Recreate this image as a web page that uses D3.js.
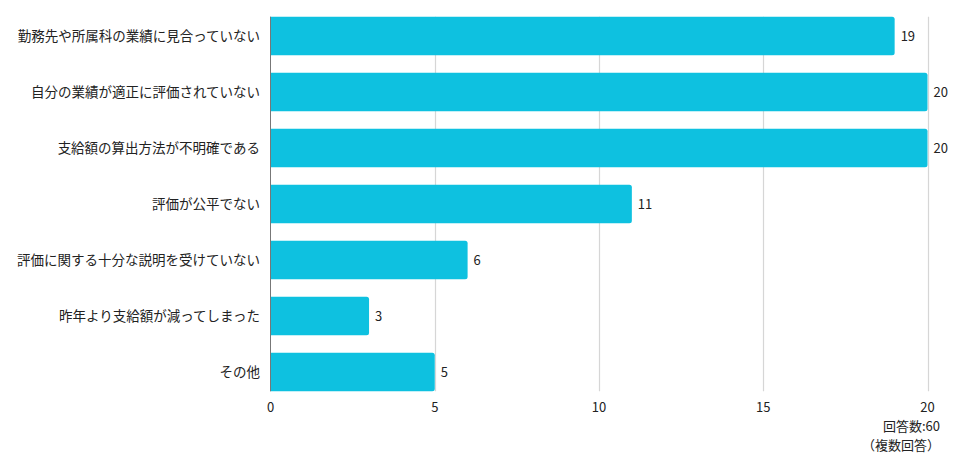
<!DOCTYPE html>
<html>
<head>
<meta charset="utf-8">
<script src="https://cdn.jsdelivr.net/npm/d3@7"></script>
<style>
  body { margin: 0; background: #fff; }
  text { font-family: "Noto Sans CJK JP", "Noto Sans", sans-serif; fill: #222; }
</style>
</head>
<body>
<svg id="container" width="976" height="459"></svg>
<script>
const categories = [
  '勤務先や所属科の業績に見合っていない',
  '自分の業績が適正に評価されていない',
  '支給額の算出方法が不明確である',
  '評価が公平でない',
  '評価に関する十分な説明を受けていない',
  '昨年より支給額が減ってしまった',
  'その他'
]
const values = [19, 20, 20, 11, 6, 3, 5]
const xTicks = [0, 5, 10, 15, 20]
const noteLines = ['回答数:60', '（複数回答）']

const svg = d3.select('#container')

const x = d3.scaleLinear().domain([0, 20]).range([270.5, 927.5])
const y = d3.scaleBand().domain(categories).range([8, 400]).paddingInner(0.31).paddingOuter(0.155)

const plotTop = y(categories[0])
const plotBottom = y(categories[categories.length - 1]) + y.bandwidth()

// grid lines
svg.append('g')
  .selectAll('line')
  .data(xTicks.slice(1))
  .enter()
  .append('line')
  .attr('x1', (d) => Math.round(x(d)) + 0.5)
  .attr('x2', (d) => Math.round(x(d)) + 0.5)
  .attr('y1', plotTop)
  .attr('y2', plotBottom)
  .attr('stroke', '#d6d6d6')
  .attr('stroke-width', 1.2)

// bars with rounded right end
const r = 2.5
svg.append('g')
  .selectAll('path')
  .data(values)
  .enter()
  .append('path')
  .attr('fill', '#0ec1e0')
  .attr('d', (d, i) => {
    const x0 = x(0), x1 = x(d), y0 = y(categories[i]), h = y.bandwidth()
    return `M${x0},${y0}H${x1 - r}Q${x1},${y0} ${x1},${y0 + r}V${y0 + h - r}Q${x1},${y0 + h} ${x1 - r},${y0 + h}H${x0}Z`
  })

// value labels
svg.append('g')
  .selectAll('text')
  .data(values)
  .enter()
  .append('text')
  .attr('x', (d) => x(d) + 6)
  .attr('y', (d, i) => y(categories[i]) + y.bandwidth() / 2)
  .attr('dy', '0.35em')
  .attr('font-size', 13)
  .text((d) => d)

// y axis line
svg.append('line')
  .attr('x1', 270.5).attr('x2', 270.5)
  .attr('y1', plotTop).attr('y2', plotBottom)
  .attr('stroke', '#777')
  .attr('stroke-width', 1)

// category labels
svg.append('g')
  .selectAll('text')
  .data(categories)
  .enter()
  .append('text')
  .attr('x', 260)
  .attr('y', (d) => y(d) + y.bandwidth() / 2)
  .attr('dy', '0.35em')
  .attr('text-anchor', 'end')
  .attr('font-size', 13.5)
  .text((d) => d)

// x tick labels
svg.append('g')
  .selectAll('text')
  .data(xTicks)
  .enter()
  .append('text')
  .attr('x', (d) => x(d))
  .attr('y', 407)
  .attr('dy', '0.35em')
  .attr('text-anchor', 'middle')
  .attr('font-size', 13)
  .text((d) => d)

// note
svg.append('g')
  .selectAll('text')
  .data(noteLines)
  .enter()
  .append('text')
  .attr('x', 940)
  .attr('y', (d, i) => 426 + i * 19)
  .attr('dy', '0.35em')
  .attr('text-anchor', 'end')
  .attr('font-size', 13)
  .text((d) => d)
</script>
</body>
</html>
